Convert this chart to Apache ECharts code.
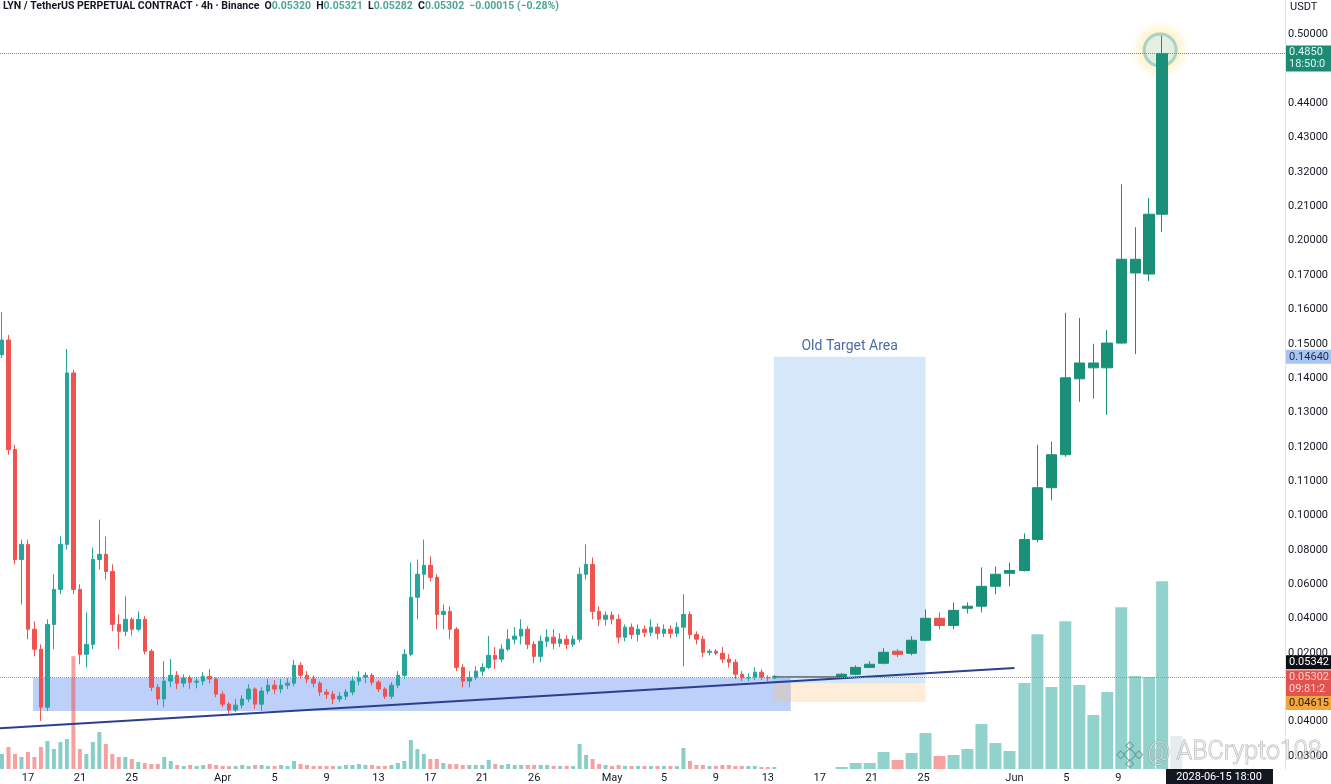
<!DOCTYPE html>
<html><head><meta charset="utf-8">
<script src="https://cdn.jsdelivr.net/npm/echarts@6/dist/echarts.min.js"></script>
<style>html,body{margin:0;padding:0;background:#fff;overflow:hidden}#c{width:1331px;height:784px}</style>
</head><body><div id="c"></div>
<script>
// ---------- DATA ----------
// x axis: days counted from Mar 17
const xTickDays   = [0,4,8,15,19,23,27,31,35,39,45,49,53,57,61,65,69,76,80,84];
const xTickLabels = ['17','21','25','Apr','5','9','13','17','21','26','May','5','9','13','17','21','25','Jun','5','9'];
// y axis: price-scale levels and the labels printed at them
const yTickLevels = [0,1,3,4,5,6,7,8,9,10,11,12,13,14,15,16,17,18,19,21];
const yTickLabels = ['0.03000','0.04000','0.02000','0.04000','0.06000','0.08000','0.10000','0.11000','0.12000','0.13000','0.14000','0.15000','0.16000','0.17000','0.20000','0.21000','0.32000','0.43000','0.44000','0.50000'];

// 12h candles from Mar 15 [open, close, low, high] (scale levels)
const candles12hStart = -2;
const candles12h = [
[11.68,12.11,11.59,12.92],[12.11,8.92,8.77,12.26],[8.92,5.72,5.58,9.06],[5.72,6.16,4.41,6.30],
[6.16,3.69,3.40,6.30],[3.69,3.11,2.90,3.92],[3.11,1.42,1.02,3.25],[1.42,3.83,1.31,3.98],
[3.83,4.85,3.11,5.29],[4.85,6.16,4.71,6.39],[6.16,11.15,6.01,11.85],[11.15,4.85,4.71,11.24],
[4.85,2.96,2.67,5.00],[2.96,3.25,2.58,4.18],[3.25,5.72,3.11,6.07],[5.72,5.87,5.43,6.88],
[5.87,5.37,5.14,6.39],[5.37,3.83,3.63,5.58],[3.83,3.63,3.11,4.12],[3.63,3.98,3.49,4.65],
[3.98,3.69,3.51,4.04],[3.69,3.98,3.63,4.21],[3.98,3.05,2.96,4.07],[3.05,2.00,1.89,3.11],
[2.00,1.66,1.48,2.09],[1.66,2.18,1.42,2.76],[2.18,2.35,2.00,2.82],[2.35,2.12,1.95,2.47],
[2.12,2.27,2.00,2.38],[2.27,2.15,1.95,2.35],[2.15,2.18,1.97,2.29],[2.18,2.32,2.06,2.44],
[2.32,2.24,2.12,2.53],[2.24,1.80,1.71,2.29],[1.80,1.51,1.42,1.89],[1.51,1.34,1.25,1.57],
[1.34,1.48,1.28,1.66],[1.48,1.66,1.39,1.77],[1.66,1.95,1.57,2.09],[1.95,1.51,1.37,2.00],
[1.51,1.89,1.31,2.00],[1.89,2.06,1.80,2.24],[2.06,1.95,1.80,2.21],[1.95,2.06,1.83,2.24],
[2.06,2.12,1.95,2.27],[2.12,2.64,2.03,2.79],[2.64,2.35,2.24,2.73],[2.35,2.24,2.12,2.47],
[2.24,2.12,2.00,2.35],[2.12,1.86,1.74,2.18],[1.86,1.80,1.66,1.95],[1.80,1.66,1.51,1.89],
[1.66,1.74,1.57,1.86],[1.74,1.86,1.63,1.95],[1.86,2.18,1.77,2.32],[2.18,2.29,2.06,2.47],
[2.29,2.35,2.12,2.44],[2.35,2.15,2.06,2.41],[2.15,1.95,1.86,2.21],[1.95,1.74,1.66,2.00],
[1.74,2.06,1.66,2.15],[2.06,2.35,1.97,2.47],[2.35,2.96,2.24,3.11],[2.96,4.62,2.90,5.63],
[4.62,5.29,3.98,5.72],[5.29,5.55,4.85,6.30],[5.55,5.20,5.08,5.81],[5.20,4.12,3.69,5.29],
[4.12,4.21,3.69,4.41],[4.21,3.69,3.40,4.36],[3.69,2.58,2.47,3.75],[2.58,2.18,2.00,2.67],
[2.18,2.29,2.00,2.47],[2.29,2.47,2.21,2.61],[2.47,2.58,2.32,2.70],[2.58,2.93,2.53,3.49],
[2.93,2.82,2.53,3.17],[2.82,3.11,2.73,3.25],[3.11,3.40,3.05,3.69],[3.40,3.49,3.25,3.75],
[3.49,3.69,3.25,3.98],[3.69,3.25,3.11,3.78],[3.25,2.90,2.70,3.34],[2.90,3.34,2.73,3.51],
[3.34,3.46,3.17,3.69],[3.46,3.28,3.11,3.69],[3.28,3.40,3.17,3.57],[3.40,3.25,3.11,3.51],
[3.25,3.40,3.17,3.51],[3.40,5.29,3.31,5.49],[5.29,5.58,5.14,6.16],[5.58,4.21,3.98,5.78],
[4.21,3.98,3.78,4.36],[3.98,4.10,3.80,4.21],[4.10,3.98,3.83,4.21],[3.98,3.46,3.28,4.12],
[3.46,3.75,3.34,3.83],[3.75,3.54,3.40,3.86],[3.54,3.69,3.34,3.83],[3.69,3.60,3.46,3.80],
[3.60,3.75,3.49,3.98],[3.75,3.57,3.40,3.86],[3.57,3.69,3.46,3.83],[3.69,3.57,3.43,3.80],
[3.57,3.75,3.46,3.89],[3.75,4.12,2.61,4.71],[4.12,3.54,3.40,4.21],[3.54,3.40,3.25,3.63],
[3.40,3.02,2.88,3.49],[3.02,3.05,2.93,3.11],[3.05,2.99,2.93,3.11],[2.99,2.82,2.70,3.17],
[2.82,2.73,2.58,2.96],[2.73,2.38,2.24,2.82],[2.38,2.27,2.18,2.47],[2.27,2.29,2.18,2.41],
[2.29,2.44,2.21,2.58],[2.44,2.29,2.21,2.53],[2.29,2.27,2.18,2.35],[2.27,2.32,2.24,2.35]
];
const vol12h = [15,22,15,12,17,12,22,28,20,27,30,113,20,15,27,37,25,15,12,12,10,7,6,5,5,12,8,4,3,4,3,4,5,4,3,3,3,4,3,4,
4,3,3,4,3,8,5,4,3,3,3,3,3,4,4,5,4,4,3,3,4,6,8,29,20,15,10,10,6,5,5,4,4,4,4,9,5,4,5,4,
4,4,4,4,4,3,3,3,3,25,14,10,5,4,3,4,3,3,3,3,3,3,3,3,3,21,8,4,4,3,3,4,4,3,3,3,3,2,2,2];

// daily candles from May 18
const dailyDays = [62.69,63.77,64.85,65.92,67.0,68.08,69.15,70.23,71.31,72.38,73.46,74.54,75.62,76.77,77.77,78.85,79.92,81.0,82.08,83.15,84.23,85.31,86.38,87.38];
const dailyCandles = [
[2.29,2.38,2.27,2.41],[2.38,2.58,2.35,2.64],[2.58,2.67,2.58,2.76],[2.70,3.02,2.67,3.14],
[3.05,2.96,2.88,3.11],[2.99,3.37,2.93,3.49],[3.37,4.01,3.34,4.27],[4.01,3.80,3.69,4.18],
[3.80,4.24,3.69,4.47],[4.30,4.36,4.15,4.47],[4.36,4.94,4.18,5.49],[4.94,5.29,4.71,5.52],
[5.32,5.40,4.94,5.63],[5.40,6.30,5.37,6.48],[6.30,7.81,6.22,9.06],[7.81,8.77,7.44,9.15],
[8.77,11.01,8.71,12.90],[10.98,11.44,10.31,12.75],[11.30,11.44,10.40,12.00],[11.30,12.02,9.93,12.40],
[12.02,14.46,12.00,16.64],[14.06,14.46,11.70,15.39],[14.03,15.77,13.83,16.24],[15.77,20.45,15.25,20.97]
];
const dailyVol = [2,6,6,17,9,16,36,13,14,20,45,26,18,86,135,82,148,84,54,77,162,93,92,188];
const liveBarDay = 88.46, liveBarVol = 33;

// price tags on the right scale
const tagLevels = [20.45, 11.62, 2.73, 2.29, 1.54];
const tagTexts  = ['0.4850\n18:50:0', '0.14640', '0.05342', '0.05302\n09:81:2', '0.04615'];

// drawings (day, level)
const supportBox = [[0.385, 2.27], [58.77, 1.31]];
const targetBox  = [[57.46, 11.62], [69.15, 2.12]];
const orangeBox  = [[57.46, 2.12], [69.15, 1.57]];
const trendLine  = [[-2.154, 0.81], [76.0, 2.56]];
const flatLine   = [[57.46, 2.32], [62.69, 2.32]];
const glowPoint  = [87.23, 20.55];

// ---------- CHART ----------
const UP = '#26a69a', DN = '#ef5350';
const DUP = '#1b9079', DDN = '#e5534f';
const FONT = 'Roboto, "Noto Sans", sans-serif';
const days12h = candles12h.map((_, i) => candles12hStart + 0.5 * i);
const c12 = candles12h.map((c, i) => [days12h[i], c[0], c[1], c[2], c[3]]);
const v12 = vol12h.map((v, i) => ({ value: [days12h[i], v],
  itemStyle: { color: candles12h[i][1] >= candles12h[i][0] ? 'rgba(38,166,154,0.55)' : 'rgba(239,83,80,0.55)' } }));
const cD = dailyCandles.map((c, i) => [dailyDays[i], c[0], c[1], c[2], c[3]]);
const vD = dailyVol.map((v, i) => ({ value: [dailyDays[i], v],
  itemStyle: { color: dailyCandles[i][1] >= dailyCandles[i][0] ? 'rgba(38,166,154,0.5)' : 'rgba(239,83,80,0.55)' } }));
vD.push({ value: [liveBarDay, liveBarVol], itemStyle: { color: 'rgba(200,214,214,0.45)' } });

const tagStyles = [
  { bg: '#1d8b74', fg: '#dff3ee', off: 5 },
  { bg: '#a8c4f2', fg: '#1b2a4a', off: 0 },
  { bg: '#0c0f15', fg: '#ffffff', off: 0 },
  { bg: '#e2524e', fg: '#fbd0cc', off: 6 },
  { bg: '#f3a63b', fg: '#2c2110', off: 0 }
];
const tagLines = tagLevels.map((lv, i) => ({
  yAxis: lv,
  lineStyle: { color: 'rgba(0,0,0,0)', width: 0 },
  label: { show: true, position: 'end', distance: 1, formatter: tagTexts[i],
    backgroundColor: tagStyles[i].bg, color: tagStyles[i].fg, fontSize: 11, lineHeight: 12,
    fontFamily: FONT, padding: [1, 20, 1, 3], offset: [0, tagStyles[i].off] }
}));

const diamond = (cx, cy, s) => ({ type: 'rect', shape: { x: -s / 2, y: -s / 2, width: s, height: s },
  x: cx, y: cy, rotation: Math.PI / 4,
  style: { fill: 'rgba(255,255,255,0.75)', stroke: 'rgba(140,140,140,0.75)', lineWidth: 1.2 } });

const chart = echarts.init(document.getElementById('c'));
chart.setOption({
  animation: false,
  backgroundColor: '#ffffff',
  title: {
    left: 3, top: 0, padding: [1, 0],
    text: '{a|LYN / TetherUS PERPETUAL CONTRACT · 4h · Binance}  {a|O}{b|0.05320}  {a|H}{b|0.05321}  {a|L}{b|0.05282}  {a|C}{b|0.05302}  {b|−0.00015 (−0.28%)}',
    textStyle: { fontSize: 10.5, fontFamily: FONT, rich: {
      a: { color: '#131722', fontSize: 10.5, fontFamily: FONT },
      b: { color: '#4fa597', fontSize: 10.5, fontFamily: FONT } } }
  },
  grid: { left: 0, right: 45, top: 0, bottom: 14 },
  xAxis: [{
    type: 'value', min: -2.154, max: 96.846,
    axisLine: { show: false, onZero: false }, axisTick: { show: false }, splitLine: { show: false },
    axisLabel: { customValues: xTickDays, margin: 4, color: '#131722', fontSize: 11, fontFamily: FONT,
      formatter: v => xTickLabels[xTickDays.indexOf(v)] }
  }, {
    type: 'value', min: -2.154, max: 96.846, show: false, axisLine: { onZero: false }
  }],
  yAxis: [{
    type: 'value', position: 'right', min: -0.378, max: 22.006,
    axisLine: { show: true, onZero: false, lineStyle: { color: '#e0e3eb', width: 1 } },
    axisTick: { show: false }, splitLine: { show: false },
    axisLabel: { customValues: yTickLevels, margin: 3, color: '#131722', fontSize: 11, fontFamily: FONT,
      formatter: v => yTickLabels[yTickLevels.indexOf(v)] }
  }, {
    type: 'value', min: 0, max: 770, show: false, axisLine: { onZero: false }
  }],
  series: [
    { name: 'vol12h', type: 'bar', xAxisIndex: 0, yAxisIndex: 1, barWidth: 4, z: 1, data: v12 },
    { name: 'volD', type: 'bar', xAxisIndex: 1, yAxisIndex: 1, barWidth: 12, z: 1, data: vD },
    { name: 'glow', type: 'scatter', xAxisIndex: 0, yAxisIndex: 0, z: 2, silent: true,
      data: [glowPoint], symbolSize: 60,
      itemStyle: { color: { type: 'radial', x: 0.5, y: 0.5, r: 0.5, colorStops: [
        { offset: 0, color: 'rgba(255,244,200,0.9)' }, { offset: 0.5, color: 'rgba(255,232,160,0.8)' },
        { offset: 1, color: 'rgba(255,236,170,0)' }] } } },
    { name: 'ring', type: 'scatter', xAxisIndex: 0, yAxisIndex: 0, z: 2, silent: true,
      data: [glowPoint], symbolSize: 32,
      itemStyle: { color: 'rgba(215,238,234,0.85)', borderColor: '#93cbc3', borderWidth: 3 } },
    { name: '12h', type: 'candlestick', xAxisIndex: 0, yAxisIndex: 0, z: 3, barWidth: 4,
      encode: { x: 0, y: [1, 2, 3, 4] }, data: c12,
      itemStyle: { color: UP, color0: DN, borderColor: UP, borderColor0: DN, borderWidth: 1 } },
    { name: '1d', type: 'candlestick', xAxisIndex: 0, yAxisIndex: 0, z: 3, barWidth: 11,
      encode: { x: 0, y: [1, 2, 3, 4] }, data: cD,
      itemStyle: { color: DUP, color0: DDN, borderColor: DUP, borderColor0: DDN, borderWidth: 1 } },
    { name: 'drawings', type: 'line', xAxisIndex: 0, yAxisIndex: 0, z: 4, data: [], silent: true,
      markArea: { silent: true, data: [
        [{ coord: supportBox[0], itemStyle: { color: 'rgba(70,125,240,0.36)' } }, { coord: supportBox[1] }],
        [{ coord: targetBox[0], itemStyle: { color: 'rgba(120,175,235,0.3)' },
           label: { show: true, position: 'top', distance: 3, formatter: 'Old Target Area',
                    color: '#4a6ba6', fontSize: 14, fontFamily: FONT } }, { coord: targetBox[1] }],
        [{ coord: orangeBox[0], itemStyle: { color: 'rgba(255,190,110,0.28)' } }, { coord: orangeBox[1] }]
      ] },
      markLine: { silent: true, symbol: ['none', 'none'], label: { show: false }, data: [
        [{ coord: trendLine[0], lineStyle: { color: '#2c3f8e', width: 2, type: 'solid' } }, { coord: trendLine[1] }],
        [{ coord: flatLine[0], lineStyle: { color: '#555a63', width: 1.5, type: 'solid' } }, { coord: flatLine[1] }],
        { yAxis: tagLevels[0], lineStyle: { color: '#4f9f95', width: 1, type: 'dotted' } },
        { yAxis: tagLevels[3], lineStyle: { color: '#e5736f', width: 1, type: 'dotted' } }
      ] } },
    { name: 'tags', type: 'line', xAxisIndex: 0, yAxisIndex: 0, z: 6, data: [], silent: true,
      markLine: { silent: true, symbol: ['none', 'none'], data: tagLines } }
  ],
  graphic: [
    { type: 'text', left: 1290, top: 2, z: 10,
      style: { text: 'USDT', fill: '#131722', fontSize: 11, fontFamily: FONT } },
    { type: 'group', left: 1116, top: 741, z: 10, children: [
      diamond(14, 12, 9), diamond(14, 3, 5.5), diamond(14, 21, 5.5), diamond(5, 12, 5.5), diamond(23, 12, 5.5)
    ] },
    { type: 'text', left: 1147, top: 741, z: 10,
      style: { text: '@', fill: 'rgba(255,255,255,0.6)', stroke: 'rgba(130,130,130,0.6)', lineWidth: 1,
               fontSize: 25, fontFamily: 'Roboto, sans-serif', fontWeight: 300 } },
    { type: 'text', left: 1176, top: 740, z: 10,
      style: { text: 'ABCrypto108', fill: 'rgba(255,255,255,0.6)', stroke: 'rgba(130,130,130,0.6)', lineWidth: 1,
               fontSize: 25, fontFamily: 'Roboto, sans-serif', fontWeight: 300 } },
    { type: 'group', left: 1166, top: 769, z: 11, children: [
      { type: 'rect', shape: { x: 0, y: 0, width: 107, height: 15 }, style: { fill: '#131722' } },
      { type: 'text', x: 53, y: 8, style: { text: '2028-06-15 18:00', fill: '#ffffff', fontSize: 11,
        fontFamily: FONT, align: 'center', verticalAlign: 'middle' } }
    ] }
  ]
});
</script></body></html>
